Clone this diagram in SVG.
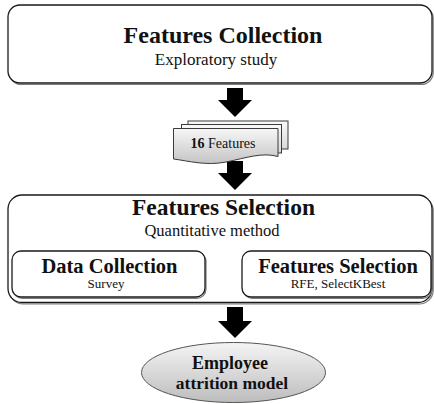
<svg xmlns="http://www.w3.org/2000/svg" width="434" height="404" viewBox="0 0 434 404">
<defs>
<linearGradient id="gDoc" x1="0" y1="0" x2="0" y2="1">
<stop offset="0" stop-color="#f7f7f7"/>
<stop offset="1" stop-color="#c4c4c4"/>
</linearGradient>
<linearGradient id="gBack" x1="0" y1="0" x2="0" y2="1">
<stop offset="0" stop-color="#fafafa"/>
<stop offset="1" stop-color="#d8d8d8"/>
</linearGradient>
<linearGradient id="gEll" x1="0" y1="0" x2="0" y2="1">
<stop offset="0" stop-color="#f4f4f4"/>
<stop offset="1" stop-color="#bdbdbd"/>
</linearGradient>
<linearGradient id="gArrow" x1="0" y1="0" x2="1" y2="0">
<stop offset="0" stop-color="#f5f5f5"/>
<stop offset="1" stop-color="#b5b5b5"/>
</linearGradient>
</defs>
<style>
.box{fill:#fff;stroke:#1a1a1a;stroke-width:1.3}
.shadow{fill:none;stroke:#7a7a7a;stroke-width:1.2}
.t{font-family:"Liberation Serif","Times New Roman",serif;fill:#111;text-anchor:middle}
.big{font-size:24px;font-weight:bold}
.mid{font-size:20.5px;font-weight:bold}
.sub{font-size:17px}
.small{font-size:13px}
.doc{stroke:#3a3a3a;stroke-width:1}
.blk{fill:#000}
</style>

<g id="connectors">
<path class="blk" d="M227,88 H243 V100 H252 L235,117 L218,100 H227 Z"/>
<path class="blk" d="M227,161 H243 V173 H252 L235,190 L218,173 H227 Z"/>
<path d="M210,263 H223 V256.5 L237,270.5 L223,284.5 V278 H210 Z" fill="url(#gArrow)" stroke="#7a7a7a" stroke-width="1"/>
<path class="blk" d="M227,307 H243 V321 H252 L235,338 L218,321 H227 Z"/>
</g>

<g id="features-collection">
<rect class="shadow" x="9.2" y="6.5" width="424" height="78" rx="12"/>
<rect class="box" x="8" y="5" width="424" height="78" rx="12"/>
<text class="t big" x="223" y="43">Features Collection</text>
<text class="t sub" x="216" y="65">Exploratory study</text>
</g>

<g id="features-16">
<rect class="doc" x="188" y="121" width="100" height="28" fill="url(#gBack)"/>
<rect class="doc" x="181.5" y="124.5" width="100" height="28.5" fill="url(#gBack)"/>
<path class="doc" fill="url(#gDoc)" d="M173.5,128.5 H278 V156.5 C262,152 246,158 226,162 C206,166 189,161 173.5,159 Z"/>
<text class="t" x="223" y="148" style="font-size:14px"><tspan font-weight="bold">16</tspan> Features</text>
</g>

<g id="features-selection">
<rect class="shadow" x="9.2" y="196.5" width="424" height="107.5" rx="14"/>
<rect class="box" x="8" y="195" width="424" height="107.5" rx="14"/>
<text class="t" x="223.5" y="215" style="font-size:23.5px;font-weight:bold">Features Selection</text>
<text class="t" x="212" y="236" style="font-size:16.5px">Quantitative method</text>
</g>

<g id="data-collection">
<rect class="shadow" x="13" y="252.3" width="193" height="46" rx="9"/>
<rect class="box" x="12" y="251" width="193" height="46" rx="9"/>
<text class="t mid" x="109.5" y="273">Data Collection</text>
<text class="t small" x="106" y="288">Survey</text>
</g>

<g id="features-selection-inner">
<rect class="shadow" x="243" y="252.3" width="189" height="46" rx="9"/>
<rect class="box" x="242" y="251" width="189" height="46" rx="9"/>
<text class="t mid" x="338" y="273">Features Selection</text>
<text class="t small" x="338" y="288">RFE, SelectKBest</text>
</g>

<g id="employee-attrition-model">
<ellipse cx="233.5" cy="372.5" rx="92" ry="30" fill="url(#gEll)" stroke="#555" stroke-width="1"/>
<text class="t" x="230" y="369" style="font-size:18px;font-weight:bold">Employee</text>
<text class="t" x="232" y="389" style="font-size:17.5px;font-weight:bold">attrition model</text>
</g>
</svg>
